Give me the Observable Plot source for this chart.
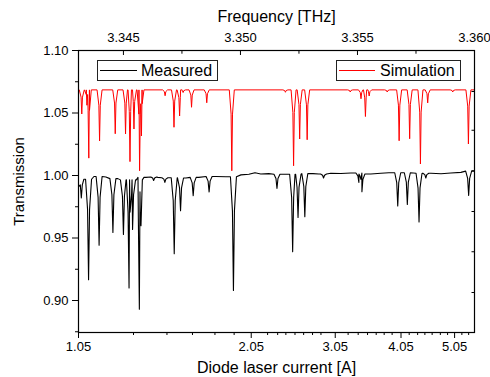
<!DOCTYPE html>
<html>
<head>
<meta charset="utf-8">
<script src="https://cdn.jsdelivr.net/npm/d3@7"></script>
<script src="https://cdn.jsdelivr.net/npm/@observablehq/plot@0.6"></script>
<style>
  html, body { margin: 0; padding: 0; background: #fff; }
  #chart svg { display: block; }
</style>
</head>
<body>
<div id="chart"></div>
<script>
// ---- data ----
const freqTicks = [3.345, 3.350, 3.355, 3.360];
const freqMinor = [3.3475, 3.3525, 3.3575];
const currentLabels = ["1.05", "2.05", "3.05", "4.05", "5.05"];
const currentTickFreq = [3.34308, 3.35046, 3.35405, 3.35686, 3.35915];
const currentMinorFreq = [3.34543, 3.34686, 3.34795, 3.34891, 3.34973, 3.35116, 3.35159, 3.35194,
  3.35233, 3.35270, 3.35308, 3.35344, 3.35460, 3.35503, 3.35543, 3.35580, 3.35614, 3.35648,
  3.35721, 3.35757, 3.35788, 3.35819, 3.35854, 3.35885, 3.35946, 3.35975];
const yTicks = [0.90, 0.95, 1.00, 1.05, 1.10];
const yMinor = [0.875, 0.925, 0.975, 1.025, 1.075];
const rightTicks = [1.0672, 1.0362, 1.0038, 0.9712, 0.9390, 0.9064];

const freqDomain = [3.34308, 3.36];
const transDomain = [0.8744, 1.10];

// Simulation (red): flat baseline with absorption dips
const simBase = 1.0685;
const simDipFreq = [3.34322, 3.34344, 3.34352, 3.34398, 3.34465, 3.34509, 3.34528, 3.34545, 3.34569, 3.34577,
  3.34678, 3.34716, 3.34740, 3.34755, 3.34791, 3.34856, 3.34963, 3.35192, 3.35227, 3.35253,
  3.35285, 3.35469, 3.35515, 3.35534, 3.35550, 3.35627, 3.35678, 3.35723, 3.35769, 3.35800,
  3.35907, 3.35974];
const simDipMin = [1.0492, 1.0562, 1.0139, 1.0276, 1.0334, 1.0332, 1.0111, 1.0372, 1.0038, 1.0316,
  1.0638, 1.0386, 1.0476, 1.0664, 1.0546, 1.0582, 1.0038, 1.0666, 1.0078, 1.0292,
  1.0286, 1.0668, 1.0614, 1.0472, 1.0636, 1.0668, 1.0278, 1.0294, 1.0092, 1.0581,
  1.0668, 1.0252];

// Measured (black): baseline samples + dips
const measBaseFreq = [3.34308, 3.34331, 3.34374, 3.34425, 3.34476, 3.34512, 3.34553, 3.34596, 3.34617, 3.34647,
  3.34694, 3.34767, 3.34822, 3.34895, 3.34938, 3.35002, 3.35036, 3.35062, 3.35087, 3.35121,
  3.35190, 3.35310, 3.35335, 3.35386, 3.35429, 3.35472, 3.35557, 3.35600, 3.35634, 3.35814,
  3.35857, 3.35899, 3.35942, 3.36000];
const measBaseVal = [0.991, 0.997, 0.9992, 0.9988, 0.9975, 0.9965, 0.9965, 0.9985, 0.9988, 0.9985,
  0.9982, 0.998, 0.9985, 0.9992, 0.999, 1.0005, 1.001, 1.0022, 1.0012, 1.0015,
  1.001, 1.0015, 1.0012, 1.0018, 1.0016, 1.002, 1.0012, 1.0018, 1.0022, 1.0018,
  1.0014, 1.002, 1.0025, 1.0035];
const measDipFreq = [3.34320, 3.34351, 3.34396, 3.34455, 3.34500, 3.34524, 3.34539, 3.34568, 3.34575, 3.34629,
  3.34677, 3.34717, 3.34744, 3.34798, 3.34866, 3.34970, 3.35156, 3.35223, 3.35246, 3.35275,
  3.35355, 3.35506, 3.35519, 3.35672, 3.35713, 3.35763, 3.35792, 3.35975];
const measDipMin = [0.982, 0.9166, 0.9443, 0.9544, 0.9528, 0.910, 0.9568, 0.8931, 0.9598, 0.996,
  0.9945, 0.9374, 0.9718, 0.9838, 0.9868, 0.908, 0.9896, 0.9391, 0.9665, 0.9671,
  0.998, 0.9944, 0.987, 0.9757, 0.9769, 0.9629, 0.998, 0.9841];

// ---- dip glyph (line shape), in THz offsets ----
const simGlyph = {off: [-0.000107, -0.00003, 0, 0.00003, 0.000107], frac: [0, 0.3, 1, 0.3, 0]};
const measGlyph = {off: [-0.000128, -0.0000427, 0, 0.0000427, 0.000128], frac: [0, 0.3, 1, 0.3, 0]};

function nearestBase(f) {
  let best = 0;
  for (let i = 1; i < measBaseFreq.length; i++)
    if (Math.abs(measBaseFreq[i] - f) < Math.abs(measBaseFreq[best] - f)) best = i;
  return measBaseVal[best];
}

function dipVertices(freqs, mins, baseFn, glyph) {
  const pts = [];
  freqs.forEach((c, i) => {
    const b = baseFn(c);
    glyph.off.forEach((o, k) => pts.push({f: c + o, v: b - (b - mins[i]) * glyph.frac[k]}));
  });
  return pts;
}

const simLine = [{f: freqDomain[0], v: simBase}, {f: freqDomain[1], v: simBase},
  ...dipVertices(simDipFreq, simDipMin, () => simBase, simGlyph)].sort((a, b) => a.f - b.f);
const measLine = [...measBaseFreq.map((f, i) => ({f, v: measBaseVal[i]})),
  ...dipVertices(measDipFreq, measDipMin, nearestBase, measGlyph)].sort((a, b) => a.f - b.f);

const labelMap = new Map(currentTickFreq.map((f, i) => [f, currentLabels[i]]));
const FONT = "'Liberation Sans', Arial, Helvetica, sans-serif";

function legend(index, scales, values, dims) {
  const g = d3.create("svg:g").attr("font-family", FONT).attr("font-size", 16).attr("text-anchor", "start");
  const items = [
    {x: 97.5, y: 60.5, w: 120, h: 20, color: "#000000", label: "Measured", lx1: 100, lx2: 137, tx: 141},
    {x: 336.5, y: 60.5, w: 124, h: 20, color: "#ff0000", label: "Simulation", lx1: 339, lx2: 375, tx: 380}
  ];
  for (const it of items) {
    g.append("rect").attr("x", it.x).attr("y", it.y).attr("width", it.w).attr("height", it.h)
      .attr("fill", "#fff").attr("stroke", "#222").attr("stroke-width", 1);
    g.append("line").attr("x1", it.lx1).attr("x2", it.lx2)
      .attr("y1", it.y + it.h / 2).attr("y2", it.y + it.h / 2)
      .style("stroke", it.color).style("stroke-width", "1.2px");
    g.append("text").attr("x", it.tx).attr("y", it.y + it.h / 2).attr("dy", "0.35em")
      .attr("text-anchor", "start").attr("fill", "#000").text(it.label);
  }
  return g.node();
}

const empty = () => "";

const chart = Plot.plot({
  width: 490,
  height: 377,
  marginLeft: 78,
  marginRight: 16,
  marginTop: 50,
  marginBottom: 45,
  x: {domain: freqDomain, axis: null},
  y: {domain: transDomain, axis: null},
  style: {fontFamily: FONT, fontSize: "13px", color: "#000", background: "#fff", overflow: "visible"},
  marks: [
    Plot.line(simLine, {x: "f", y: "v", stroke: "#ff0000", strokeWidth: 1, clip: true}),
    Plot.line(measLine, {x: "f", y: "v", stroke: "#000", strokeWidth: 1.1, clip: true}),
    Plot.axisY(yTicks, {anchor: "left", tickSize: 6, tickPadding: 4, tickFormat: d3.format(".2f"), fontSize: 13, label: null}),
    Plot.axisY(yMinor, {anchor: "left", tickSize: 3, tickFormat: empty, label: null}),
    // inward ticks on the right edge
    Plot.axisY(rightTicks, {anchor: "right", tickSize: 3.5, dx: -3.5, tickFormat: empty, label: null}),
    Plot.axisX(freqTicks, {anchor: "top", tickSize: 0, tickPadding: 9, tickFormat: d3.format(".3f"), fontSize: 13, label: null}),
    // inward ticks on the top edge
    Plot.axisX(freqTicks, {anchor: "top", tickSize: 4, dy: 4, tickFormat: empty, label: null}),
    Plot.axisX(freqMinor, {anchor: "top", tickSize: 2.7, dy: 2.7, tickFormat: empty, label: null}),
    Plot.axisX(currentTickFreq, {anchor: "bottom", tickSize: 6, tickPadding: 3, tickFormat: d => labelMap.get(d), fontSize: 13, label: null}),
    Plot.axisX(currentMinorFreq, {anchor: "bottom", tickSize: 3, tickFormat: empty, label: null}),
    Plot.frame({stroke: "#000", strokeWidth: 1.2}),
    legend,
    Plot.text(["Frequency [THz]"], {frameAnchor: "top", dy: -34, lineAnchor: "middle", textAnchor: "middle", fontSize: 16, fill: "#000"}),
    Plot.text(["Diode laser current [A]"], {frameAnchor: "bottom", dy: 35, lineAnchor: "middle", textAnchor: "middle", fontSize: 16, fill: "#000"}),
    Plot.text(["Transmission"], {frameAnchor: "left", dx: -59, dy: -10, rotate: -90, lineAnchor: "middle", textAnchor: "middle", fontSize: 15, fill: "#000"})
  ]
});
document.getElementById("chart").appendChild(chart);
</script>
</body>
</html>
